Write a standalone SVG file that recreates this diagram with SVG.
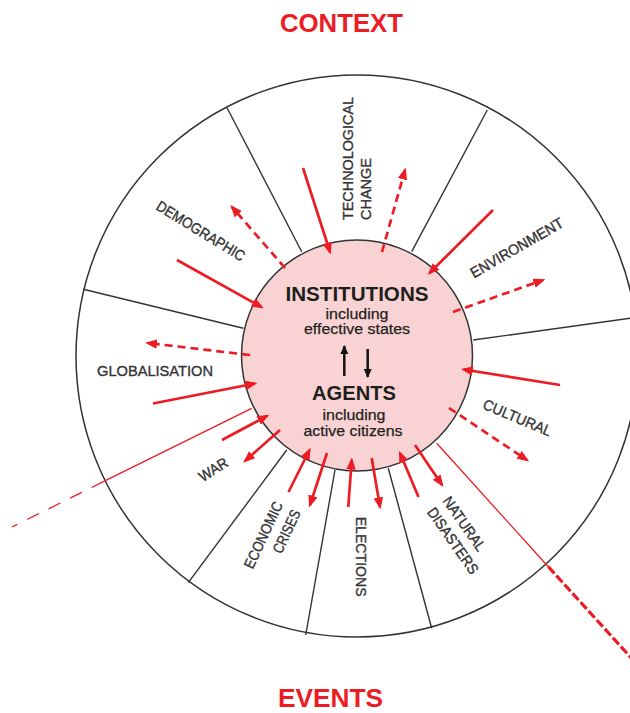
<svg xmlns="http://www.w3.org/2000/svg" width="630" height="713" viewBox="0 0 630 713">
  <defs>
    <marker id="red-head" markerUnits="userSpaceOnUse" markerWidth="13" markerHeight="10" refX="9.5" refY="4.75" orient="auto">
      <path d="M0,0 L12,4.75 L0,9.5 Z" fill="#ec1c24"/>
    </marker>
    <marker id="black-head" markerUnits="userSpaceOnUse" markerWidth="10" markerHeight="9" refX="8" refY="4" orient="auto">
      <path d="M0,0 L9,4 L0,8 Z" fill="#111"/>
    </marker>
  </defs>
  <style>
    .title { font-family: "Liberation Sans", Arial, sans-serif; font-size: 26px; font-weight: bold; fill: #ec1c24; text-anchor: middle; }
    .ring { fill: none; stroke: #333; stroke-width: 1.5; }
    .spoke { stroke: #333; stroke-width: 1.4; fill: none; }
    .red-spoke { stroke: #ec1c24; stroke-width: 1.3; fill: none; }
    .arrow { stroke: #ec1c24; stroke-width: 2.7; fill: none; marker-end: url(#red-head); }
    .dashed { stroke-dasharray: 8 5; }
    .label { font-family: "Liberation Sans", Arial, sans-serif; font-size: 15px; fill: #333; stroke: #333; stroke-width: 0.35; }
    .core-head { font-family: "Liberation Sans", Arial, sans-serif; font-weight: bold; fill: #1e1e1e; text-anchor: middle; }
    .core-sub { font-family: "Liberation Sans", Arial, sans-serif; font-size: 15.5px; fill: #1e1e1e; stroke: #1e1e1e; stroke-width: 0.25; text-anchor: middle; }
  </style>

  <rect width="630" height="713" fill="#ffffff"/>

  <!-- headings -->
  <text class="title" x="341.5" y="32" textLength="123" lengthAdjust="spacingAndGlyphs">CONTEXT</text>
  <text class="title" x="330.5" y="707" textLength="105" lengthAdjust="spacingAndGlyphs">EVENTS</text>

  <!-- outer wheel and sector dividers -->
  <g id="wheel">
    <circle class="ring" cx="357" cy="356" r="281"/>
    <line class="spoke" x1="301.7" y1="251.7" x2="227" y2="107.7"/>
    <line class="spoke" x1="411.7" y1="251.7" x2="487.3" y2="110"/>
    <line class="spoke" x1="473.3" y1="340" x2="632" y2="318"/>
    <line class="spoke" x1="243.3" y1="328.3" x2="83.3" y2="289.3"/>
    <line class="spoke" x1="286.7" y1="450" x2="188.3" y2="582.7"/>
    <line class="spoke" x1="335" y1="470" x2="305.7" y2="635"/>
    <line class="spoke" x1="388.3" y1="468.3" x2="431.7" y2="628.3"/>
    <!-- red dividers between context and events -->
    <line class="red-spoke" x1="251.7" y1="408.3" x2="103.3" y2="481.7"/>
    <line class="red-spoke" x1="103.3" y1="481.7" x2="12" y2="527" stroke-dasharray="13 11"/>
    <line class="red-spoke" x1="436.7" y1="443.3" x2="548.3" y2="566.7"/>
    <line x1="548.3" y1="566.7" x2="634" y2="661" stroke="#ec1c24" stroke-width="3.2" stroke-dasharray="9 3"/>
  </g>

  <!-- core: institutions and agents -->
  <g id="core">
    <circle cx="357" cy="355.5" r="115.5" fill="#f9d3d3" stroke="#333" stroke-width="1.5"/>
    <text class="core-head" x="357" y="300.5" font-size="21" textLength="143" lengthAdjust="spacingAndGlyphs">INSTITUTIONS</text>
    <text class="core-sub" x="357" y="318.5" textLength="63" lengthAdjust="spacingAndGlyphs">including</text>
    <text class="core-sub" x="357" y="334" textLength="106" lengthAdjust="spacingAndGlyphs">effective states</text>
    <line x1="344.3" y1="376" x2="344.3" y2="346" stroke="#111" stroke-width="2.5" marker-end="url(#black-head)"/>
    <line x1="367.7" y1="349" x2="367.7" y2="377" stroke="#111" stroke-width="2.5" marker-end="url(#black-head)"/>
    <text class="core-head" x="354" y="400" font-size="20" textLength="84" lengthAdjust="spacingAndGlyphs">AGENTS</text>
    <text class="core-sub" x="354" y="419.8" textLength="63" lengthAdjust="spacingAndGlyphs">including</text>
    <text class="core-sub" x="353" y="435.6" textLength="99" lengthAdjust="spacingAndGlyphs">active citizens</text>
  </g>

  <!-- sector labels -->
  <g id="demographic">
    <text class="label" transform="translate(200.8,230.8) rotate(31.5)" x="0" y="5.4" text-anchor="middle" textLength="101" lengthAdjust="spacingAndGlyphs">DEMOGRAPHIC</text>
  </g>
  <g id="technological-change" transform="translate(352.5,220) rotate(-90)">
    <text class="label" x="0" y="0" textLength="123" lengthAdjust="spacingAndGlyphs">TECHNOLOGICAL</text>
    <text class="label" x="0" y="18.5" textLength="62" lengthAdjust="spacingAndGlyphs">CHANGE</text>
  </g>
  <g id="environment">
    <text class="label" transform="translate(516.7,247.5) rotate(-30)" x="0" y="5.4" text-anchor="middle" textLength="105" lengthAdjust="spacingAndGlyphs">ENVIRONMENT</text>
  </g>
  <g id="cultural">
    <text class="label" transform="translate(517.5,417.5) rotate(22.8)" x="0" y="5.4" text-anchor="middle" textLength="73" lengthAdjust="spacingAndGlyphs">CULTURAL</text>
  </g>
  <g id="globalisation">
    <text class="label" x="155" y="376.2" text-anchor="middle" textLength="116" lengthAdjust="spacingAndGlyphs">GLOBALISATION</text>
  </g>
  <g id="war">
    <text class="label" transform="translate(213.3,469.2) rotate(-32)" x="0" y="5.4" text-anchor="middle" textLength="31.5" lengthAdjust="spacingAndGlyphs">WAR</text>
  </g>
  <g id="economic-crises" transform="translate(283.2,504.6) rotate(-65)">
    <text class="label" x="0" y="0" text-anchor="end" textLength="72" lengthAdjust="spacingAndGlyphs">ECONOMIC</text>
    <text class="label" x="0" y="19.5" text-anchor="end" textLength="46" lengthAdjust="spacingAndGlyphs">CRISES</text>
  </g>
  <g id="elections">
    <text class="label" transform="translate(356,556.7) rotate(90)" x="0" y="0" text-anchor="middle" textLength="80" lengthAdjust="spacingAndGlyphs">ELECTIONS</text>
  </g>
  <g id="natural-disasters" transform="translate(442,501) rotate(55)">
    <text class="label" x="0" y="0" textLength="63" lengthAdjust="spacingAndGlyphs">NATURAL</text>
    <text class="label" x="0" y="19" textLength="77.5" lengthAdjust="spacingAndGlyphs">DISASTERS</text>
  </g>

  <!-- influence arrows -->
  <g id="connectors">
    <!-- context acting on the core -->
    <line class="arrow" x1="303" y1="168" x2="330" y2="252"/>
    <line class="arrow" x1="177" y1="260" x2="261.5" y2="307"/>
    <line class="arrow" x1="493" y1="210" x2="429.5" y2="273"/>
    <line class="arrow" x1="153" y1="403.5" x2="255" y2="383.5"/>
    <line class="arrow" x1="560" y1="385" x2="463.5" y2="369.5"/>
    <!-- core acting back on context -->
    <line class="arrow dashed" x1="285" y1="268" x2="232" y2="207"/>
    <line class="arrow dashed" x1="250" y1="355" x2="147.5" y2="343"/>
    <line class="arrow dashed" x1="382" y1="252" x2="405" y2="170"/>
    <line class="arrow dashed" x1="453" y1="312" x2="543" y2="280"/>
    <line class="arrow dashed" x1="449" y1="408" x2="527" y2="460"/>
    <!-- events: two-way -->
    <line class="arrow" x1="222" y1="440" x2="267" y2="416"/>
    <line class="arrow" x1="280" y1="430" x2="245" y2="461"/>
    <line class="arrow" x1="288.5" y1="492" x2="309.5" y2="450"/>
    <line class="arrow" x1="327" y1="453" x2="310" y2="505"/>
    <line class="arrow" x1="348.3" y1="507" x2="351.7" y2="460"/>
    <line class="arrow" x1="371.7" y1="458" x2="380" y2="507"/>
    <line class="arrow" x1="418.5" y1="497" x2="400" y2="453"/>
    <line class="arrow" x1="415" y1="445" x2="442" y2="485"/>
  </g>
</svg>
